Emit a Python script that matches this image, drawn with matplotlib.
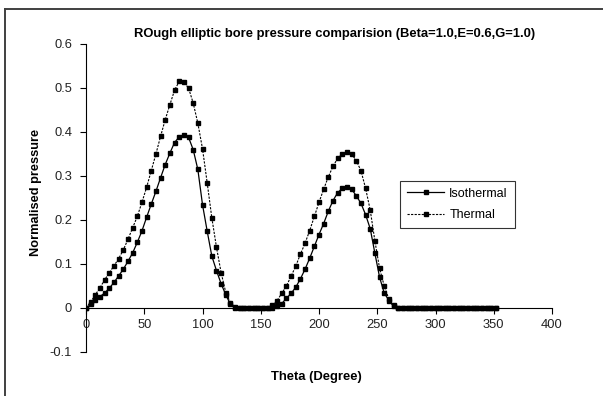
import matplotlib

matplotlib.use("Agg")
import matplotlib.pyplot as plt
from matplotlib.lines import Line2D

plt.rcParams["font.family"] = ["Liberation Sans", "DejaVu Sans"]

theta = list(range(0, 356, 4))

isothermal = [
    0.0, 0.008, 0.018, 0.026, 0.034, 0.045, 0.058, 0.073, 0.088, 0.106,
    0.125, 0.149, 0.175, 0.206, 0.236, 0.265, 0.296, 0.326, 0.352, 0.376,
    0.389, 0.394, 0.388, 0.360, 0.315, 0.235, 0.175, 0.118, 0.085, 0.055,
    0.030, 0.008, 0.001, 0.0, 0.0, 0.0, 0.0, 0.0, 0.0, 0.0,
    0.0, 0.004, 0.010, 0.022, 0.033, 0.047, 0.066, 0.088, 0.113, 0.140,
    0.167, 0.192, 0.220, 0.244, 0.262, 0.272, 0.276, 0.270, 0.255, 0.238,
    0.212, 0.180, 0.124, 0.070, 0.034, 0.017, 0.004, 0.0, 0.0, 0.0,
    0.0, 0.0, 0.0, 0.0, 0.0, 0.0, 0.0, 0.0, 0.0, 0.0,
    0.0, 0.0, 0.0, 0.0, 0.0, 0.0, 0.0, 0.0, 0.0,
]

thermal = [
    0.0, 0.014, 0.030, 0.046, 0.064, 0.080, 0.096, 0.112, 0.132, 0.156,
    0.182, 0.208, 0.240, 0.274, 0.312, 0.350, 0.390, 0.428, 0.462, 0.495,
    0.515, 0.513, 0.500, 0.466, 0.420, 0.362, 0.285, 0.205, 0.138, 0.080,
    0.035, 0.012, 0.002, 0.0, 0.0, 0.0, 0.0, 0.0, 0.0, 0.001,
    0.006, 0.017, 0.033, 0.050, 0.072, 0.095, 0.122, 0.147, 0.176, 0.208,
    0.240, 0.270, 0.298, 0.322, 0.340, 0.350, 0.354, 0.350, 0.335, 0.312,
    0.272, 0.222, 0.152, 0.090, 0.050, 0.020, 0.006, 0.0, 0.0, 0.0,
    0.0, 0.0, 0.0, 0.0, 0.0, 0.0, 0.0, 0.0, 0.0, 0.0,
    0.0, 0.0, 0.0, 0.0, 0.0, 0.0, 0.0, 0.0, 0.0,
]

x_ticks = [0, 50, 100, 150, 200, 250, 300, 350, 400]
y_ticks = [-0.1, 0, 0.1, 0.2, 0.3, 0.4, 0.5, 0.6]
y_ticklabels = ["-0.1", "0", "0.1", "0.2", "0.3", "0.4", "0.5", "0.6"]

W, H = 603, 396
fig = plt.figure(figsize=(W / 100, H / 100), dpi=100)
ax = fig.add_axes([86 / W, 1 - 352 / H, 466 / W, 308 / H])

ax.plot(theta, isothermal, color="black", lw=0.9, marker="s", ms=3.2,
        label="Isothermal")
ax.plot(theta, thermal, color="black", lw=0.8, ls=(0, (2, 1.2)), marker="s",
        ms=3.2, label="Thermal")

ax.set_xlim(0, 400)
ax.set_ylim(-0.1, 0.6)
ax.spines["top"].set_visible(False)
ax.spines["right"].set_visible(False)
ax.spines["bottom"].set_position(("data", 0))
ax.spines["left"].set_position(("data", 0))
for s in ("bottom", "left"):
    ax.spines[s].set_linewidth(0.8)

ax.set_xticks(x_ticks)
ax.set_yticks(y_ticks)
ax.set_yticklabels(y_ticklabels)
ax.tick_params(axis="both", direction="out", length=4, width=0.8,
               labelsize=9.3, colors="black", labelcolor="#222222")
ax.tick_params(axis="y", pad=6)
ax.tick_params(axis="x", pad=4)

fig.text(335 / W, 1 - 34 / H,
         "ROugh elliptic bore pressure comparision (Beta=1.0,E=0.6,G=1.0)",
         ha="center", va="center", fontsize=9.4, fontweight="bold")
fig.text(316 / W, 1 - 377 / H, "Theta (Degree)", ha="center", va="center",
         fontsize=9.4, fontweight="bold")
fig.text(36 / W, 1 - 192 / H, "Normalised pressure", ha="center", va="center",
         rotation=90, fontsize=9.2, fontweight="bold")

leg = ax.legend(loc="upper left", bbox_to_anchor=((400 - 86) / 466, (352 - 181) / 308),
                frameon=True, fancybox=False, fontsize=9, handlelength=3.0,
                borderpad=0.55, labelspacing=0.75, handletextpad=0.4,
                borderaxespad=0)
leg.get_frame().set_edgecolor("black")
leg.get_frame().set_linewidth(0.8)

# chart area border (only the left and top edges are in view)
fig.add_artist(Line2D([4.5 / W, 4.5 / W], [0, 1 - 8.5 / H], transform=fig.transFigure,
                      color="#404040", lw=1.4))
fig.add_artist(Line2D([4.5 / W, 1], [1 - 8.5 / H, 1 - 8.5 / H], transform=fig.transFigure,
                      color="#404040", lw=1.4))

fig.savefig("out.png", dpi=100, facecolor="white")
